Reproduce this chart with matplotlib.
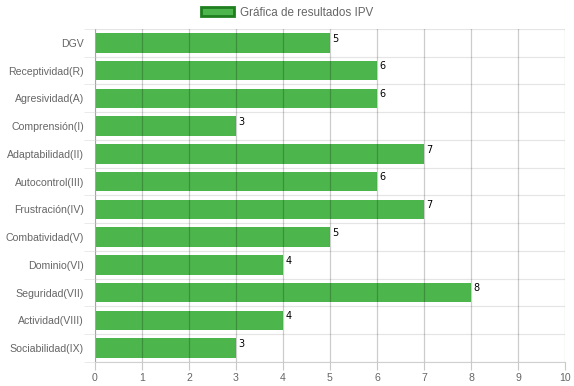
import matplotlib.pyplot as plt
from matplotlib.patches import Patch
from matplotlib.ticker import MultipleLocator, FixedLocator

categorias = ['DGV', 'Receptividad(R)', 'Agresividad(A)', 'Comprensión(I)',
              'Adaptabilidad(II)', 'Autocontrol(III)', 'Frustración(IV)',
              'Combatividad(V)', 'Dominio(VI)', 'Seguridad(VII)',
              'Actividad(VIII)', 'Sociabilidad(IX)']
valores = [5, 6, 6, 3, 7, 6, 7, 5, 4, 8, 4, 3]
etiqueta = 'Gráfica de resultados IPV'

verde = '#4cb54c'
borde = '#1f7f1f'
gris = '#666666'

plt.rcParams['font.family'] = ['Liberation Sans', 'DejaVu Sans']

fig = plt.figure(figsize=(5.74, 3.86), dpi=100)
ax = fig.add_axes([0.1655, 0.0622, 0.8188, 0.8627])

y = list(range(len(categorias)))
ax.barh(y, valores, height=0.7, color=verde, zorder=2)

for yi, v in zip(y, valores):
    ax.text(v + 0.05, yi - 0.33, str(v), fontsize=7, color='black',
            va='top', ha='left', family='DejaVu Sans', zorder=4)

ax.set_xlim(0, 10)
ax.set_ylim(len(categorias) - 0.5, -0.5)
ax.xaxis.set_major_locator(MultipleLocator(1))
ax.set_yticks(y)
ax.set_yticklabels(categorias)
ax.yaxis.set_minor_locator(FixedLocator([i + 0.5 for i in range(-1, len(categorias))]))

ax.grid(axis='x', which='major', color='#000000', alpha=0.2, linewidth=0.9, zorder=3)
ax.grid(axis='y', which='minor', color='#000000', alpha=0.1, linewidth=0.9)
ax.set_axisbelow(False)

ax.tick_params(axis='y', which='major', length=0, pad=8, labelsize=7.6, labelcolor=gris)
ax.tick_params(axis='y', which='minor', length=8, color='#e6e6e6')
ax.tick_params(axis='x', length=6, color='#c8c8c8', labelsize=7.6, labelcolor=gris, pad=2)

for s in ['top', 'right']:
    ax.spines[s].set_visible(False)
ax.spines['left'].set_color('#d0d0d0')
ax.spines['bottom'].set_color('#d0d0d0')

h = Patch(facecolor=verde, edgecolor=borde, linewidth=2)
fig.legend([h], [etiqueta], loc='upper center', bbox_to_anchor=(0.5, 1.01),
           frameon=False, fontsize=8.4, labelcolor=gris,
           handlelength=2.9, handleheight=0.9, handletextpad=0.5)

fig.savefig('out.png', dpi=100)
